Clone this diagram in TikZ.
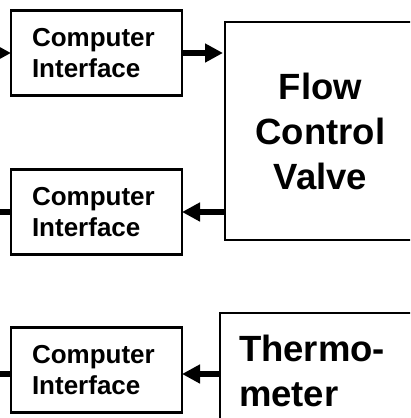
\documentclass[tikz,border=0pt]{standalone}
\usepackage{fontspec}
\setmainfont{Liberation Sans}
\usetikzlibrary{arrows.meta}
\begin{document}
\begin{tikzpicture}[x=1pt,y=-1pt,
  box/.style={draw, line width=2.7pt, inner sep=0pt, outer sep=0pt},
  ci/.style={box, minimum width=171pt, minimum height=85pt, text width=129pt, align=left,
    font=\fontsize{26}{31}\selectfont\bfseries},
  big/.style={box, font=\fontsize{36.5}{45}\selectfont\bfseries},
  conn/.style={line width=5.5pt},
  arr/.style={conn, -{Triangle[length=18pt,width=18pt]}}]
\useasboundingbox (0,0) rectangle (410,418);
\clip (0,0) rectangle (410,418);
\node[ci] (b1) at (96.5,53) {Computer\\Interface};
\node[ci] (b2) at (96.5,212) {Computer\\Interface};
\node[ci] (b3) at (96.5,370) {Computer\\Interface};
\node[big, minimum width=191pt, minimum height=218pt, align=center] (fcv) at (320.5,131) {Flow\\Control\\Valve};
\node[big, minimum width=196pt, minimum height=116pt, text width=158pt, align=left] (th) at (318,371) {Thermo-\\meter};
\coordinate (l1) at (-20,53);
\coordinate (l2) at (-10,212);
\coordinate (l3) at (-10,374);
\draw[arr] (l1) -- (b1.west);
\draw[arr, shorten >=2pt] (b1.east) -- (b1.east -| fcv.west);
\draw[arr] (fcv.west |- b2.east) -- (b2.east);
\draw[conn] (b2.west) -- (l2);
\draw[arr] (th.west |- l3) -- (b3.east |- l3);
\draw[conn] (b3.west |- l3) -- (l3);
\end{tikzpicture}
\end{document}
